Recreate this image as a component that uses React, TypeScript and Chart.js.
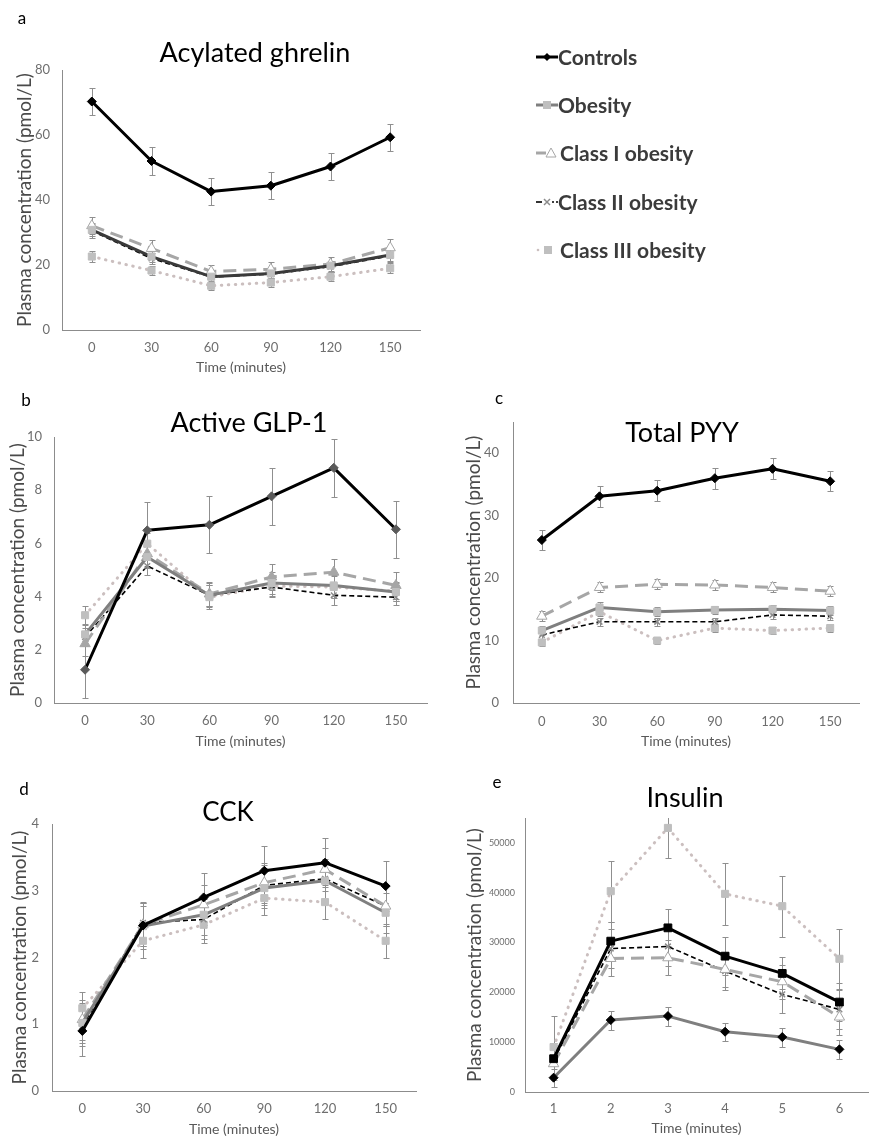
import React, { useEffect, useRef } from "react";
import { Chart, registerables } from "chart.js";
Chart.register(...registerables);

const FONT = "Lato, 'Open Sans', sans-serif";

const seriesNames = ["Controls", "Obesity", "Class I obesity", "Class II obesity", "Class III obesity"];
const timeLabels = ["0", "30", "60", "90", "120", "150"];
const insulinLabels = ["1", "2", "3", "4", "5", "6"];

// y-axis tick values per panel
const ghrelinTicks = [0, 20, 40, 60, 80];
const glpTicks = [0, 2, 4, 6, 8, 10];
const pyyTicks = [0, 10, 20, 30, 40];
const cckTicks = [0, 1, 2, 3, 4];
const insulinTicks = [0, 10000, 20000, 30000, 40000, 50000];

// a — Acylated ghrelin
const ghrelinControls = [70.3, 52.0, 42.6, 44.4, 50.3, 59.3];
const ghrelinObesity = [30.8, 22.6, 16.4, 17.4, 19.8, 23.1];
const ghrelinClassI = [32.1, 25.1, 18.0, 18.7, 20.3, 25.3];
const ghrelinClassII = [30.5, 22.0, 16.3, 17.2, 19.5, 22.8];
const ghrelinClassIII = [22.6, 18.3, 13.6, 14.6, 16.4, 19.0];
const ghrelinControlsErr = [4.2, 4.3, 4.1, 4.2, 4.2, 4.2];
const ghrelinObesityErr = [2.0, 1.6, 1.3, 1.4, 1.5, 1.8];
const ghrelinClassIErr = [2.6, 2.6, 2.0, 2.2, 2.3, 2.6];
const ghrelinClassIIErr = [2.2, 1.8, 1.5, 1.6, 1.7, 2.0];
const ghrelinClassIIIErr = [1.8, 1.4, 1.2, 1.3, 1.4, 1.6];

// b — Active GLP-1
const glpControls = [1.25, 6.49, 6.7, 7.77, 8.84, 6.53];
const glpObesity = [2.58, 5.49, 4.05, 4.51, 4.42, 4.17];
const glpClassI = [2.23, 5.61, 4.1, 4.74, 4.92, 4.42];
const glpClassII = [2.48, 5.15, 4.05, 4.36, 4.05, 3.98];
const glpClassIII = [3.3, 5.99, 3.98, 4.4, 4.36, 4.2];
const glpControlsErr = [1.07, 1.05, 1.07, 1.07, 1.08, 1.07];
const glpObesityErr = [0.4, 0.4, 0.45, 0.4, 0.4, 0.35];
const glpClassIErr = [0.45, 0.45, 0.45, 0.5, 0.5, 0.5];
const glpClassIIErr = [0.35, 0.35, 0.4, 0.35, 0.35, 0.3];
const glpClassIIIErr = [0.35, 0.4, 0.45, 0.4, 0.4, 0.35];

// c — Total PYY
const pyyControls = [26.1, 33.1, 34.0, 36.0, 37.5, 35.5];
const pyyObesity = [11.6, 15.3, 14.6, 14.9, 15.0, 14.8];
const pyyClassI = [13.9, 18.5, 19.0, 18.9, 18.5, 17.9];
const pyyClassII = [10.9, 13.0, 13.0, 13.0, 14.1, 13.9];
const pyyClassIII = [9.7, 14.6, 10.0, 12.0, 11.6, 12.0];
const pyyControlsErr = [1.6, 1.7, 1.7, 1.7, 1.7, 1.6];
const pyyObesityErr = [0.7, 0.8, 0.7, 0.7, 0.7, 0.7];
const pyyClassIErr = [0.8, 0.8, 0.8, 0.8, 0.8, 0.8];
const pyyClassIIErr = [0.6, 0.6, 0.6, 0.6, 0.6, 0.6];
const pyyClassIIIErr = [0.6, 0.7, 0.6, 0.6, 0.6, 0.6];

// d — CCK
const cckControls = [0.9, 2.48, 2.9, 3.3, 3.42, 3.07];
const cckObesity = [1.02, 2.47, 2.64, 3.04, 3.15, 2.67];
const cckClassI = [1.07, 2.49, 2.79, 3.12, 3.32, 2.77];
const cckClassII = [0.97, 2.52, 2.57, 3.08, 3.18, 2.77];
const cckClassIII = [1.24, 2.25, 2.49, 2.89, 2.83, 2.25];
const cckControlsErr = [0.38, 0.35, 0.37, 0.37, 0.37, 0.38];
const cckObesityErr = [0.3, 0.3, 0.3, 0.3, 0.3, 0.3];
const cckClassIErr = [0.3, 0.32, 0.3, 0.3, 0.32, 0.3];
const cckClassIIErr = [0.3, 0.3, 0.3, 0.3, 0.3, 0.3];
const cckClassIIIErr = [0.25, 0.25, 0.27, 0.25, 0.25, 0.25];

// e — Insulin
const insControls = [2870, 14440, 15240, 12100, 11030, 8560];
const insObesity = [6680, 30280, 32950, 27270, 23800, 18050];
const insClassI = [5680, 26800, 26940, 24600, 22130, 15040];
const insClassII = [6350, 28800, 29210, 24260, 19590, 16580];
const insClassIII = [9020, 40310, 53010, 39770, 37300, 26740];
const insControlsErr = [1800, 1900, 1900, 1800, 1900, 1900];
const insObesityErr = [3200, 3900, 3700, 3800, 3200, 3800];
const insClassIErr = [3200, 3500, 3500, 3600, 3400, 3500];
const insClassIIErr = [3000, 4000, 4000, 3800, 3800, 3900];
const insClassIIIErr = [6200, 6100, 6000, 6200, 6100, 6000];

type Style = {
  color: string; width: number; dash: number[]; cap?: CanvasLineCap;
  point: string; radius: number; pBg: string; pBorder: string; pWidth: number;
};

const baseStyles: Style[] = [
  { color: "#000000", width: 3, dash: [], point: "rectRot", radius: 4.5, pBg: "#000000", pBorder: "#000000", pWidth: 1 },
  { color: "#7f7f7f", width: 3, dash: [], point: "rect", radius: 5, pBg: "#bfbfbf", pBorder: "#bfbfbf", pWidth: 1 },
  { color: "#a6a6a6", width: 3, dash: [13, 7], point: "triangle", radius: 6, pBg: "#ffffff", pBorder: "#a6a6a6", pWidth: 1 },
  { color: "#000000", width: 1.6, dash: [5, 3], point: "crossRot", radius: 4, pBg: "#bdbdbd", pBorder: "#8c8c8c", pWidth: 1.5 },
  { color: "#cbbfbf", width: 3, dash: [0.5, 6.5], cap: "round", point: "rect", radius: 5, pBg: "#bfbfbf", pBorder: "#bfbfbf", pWidth: 1 },
];

function makeDatasets(values: number[][], errors: number[][], overrides: Partial<Style>[] = []) {
  return values.map((v, i) => {
    const s = { ...baseStyles[i], ...(overrides[i] || {}) };
    return {
      label: seriesNames[i],
      data: v,
      errors: errors[i],
      borderColor: s.color,
      borderWidth: s.width,
      borderDash: s.dash,
      borderCapStyle: s.cap || "butt",
      borderJoinStyle: "round",
      tension: 0,
      fill: false,
      pointStyle: s.point,
      pointRadius: s.radius,
      pointBackgroundColor: s.pBg,
      pointBorderColor: s.pBorder,
      pointBorderWidth: s.pWidth,
    };
  });
}

const errorBarPlugin = {
  id: "errorBars",
  beforeDatasetsDraw(chart: any) {
    const ctx = chart.ctx;
    const y = chart.scales.y;
    const area = chart.chartArea;
    ctx.save();
    ctx.beginPath();
    ctx.rect(area.left - 10, area.top, area.right - area.left + 20, area.bottom - area.top + 40);
    ctx.clip();
    chart.data.datasets.forEach((ds: any, i: number) => {
      const errs = ds.errors;
      if (!errs) return;
      const meta = chart.getDatasetMeta(i);
      meta.data.forEach((pt: any, j: number) => {
        const v = ds.data[j];
        const e = errs[j];
        const top = Math.round(y.getPixelForValue(v + e)) + 0.5;
        const bot = Math.round(y.getPixelForValue(v - e)) + 0.5;
        const x = Math.round(pt.x) + 0.5;
        ctx.strokeStyle = "#8f8f8f";
        ctx.lineWidth = 1;
        ctx.beginPath();
        ctx.moveTo(x, top); ctx.lineTo(x, bot);
        ctx.moveTo(x - 3, top); ctx.lineTo(x + 3, top);
        ctx.moveTo(x - 3, bot); ctx.lineTo(x + 3, bot);
        ctx.stroke();
      });
    });
    ctx.restore();
  },
};

const panelTextPlugin = {
  id: "panelText",
  afterDraw(chart: any, _args: any, opts: any) {
    const ctx = chart.ctx;
    ctx.save();
    ctx.textAlign = "center";
    ctx.textBaseline = "middle";
    ctx.fillStyle = "#000000";
    ctx.font = `${opts.titleSize}px ${FONT}`;
    ctx.fillText(opts.title, opts.titleX, opts.titleY);
    ctx.font = `17px ${FONT}`;
    ctx.fillText(opts.letter, opts.letterX, opts.letterY);
    ctx.restore();
  },
};

type PanelCfg = {
  box: { x: number; y: number; w: number; h: number };
  plot: { l: number; t: number; r: number; b: number };
  yTitleX: number; xTitleY: number;
  title: string; titleX: number; titleY: number; titleSize: number;
  letter: string; letterX: number; letterY: number;
  labels: string[];
  datasets: any[];
  yMax: number; yTicks: number[];
  yTickSize: number; xTickSize: number; yPad: number; xPad: number;
};

const Y_TITLE_SIZE = 19;
const X_TITLE_SIZE = 14;
const AXIS_COLOR = "#8c8c8c";
const TICK_COLOR = "#6e6e6e";

function Panel({ cfg }: { cfg: PanelCfg }) {
  const ref = useRef<HTMLCanvasElement>(null);
  useEffect(() => {
    const c = cfg;
    const yLH = Y_TITLE_SIZE * 1.2;
    const xLH = X_TITLE_SIZE * 1.2;
    const yScaleLeft = c.yTitleX - yLH / 2;
    const yWidth = c.plot.l - yScaleLeft;
    const padLeft = yScaleLeft - c.box.x;
    const padRight = c.box.x + c.box.w - c.plot.r;
    const padTop = c.plot.t - c.box.y;
    const xScaleBottom = c.xTitleY + xLH / 2;
    const xHeight = xScaleBottom - c.plot.b;
    const padBottom = c.box.y + c.box.h - xScaleBottom;
    const chart = new Chart(ref.current as HTMLCanvasElement, {
      type: "line",
      data: { labels: c.labels, datasets: c.datasets },
      options: {
        animation: false,
        responsive: false,
        layout: { padding: { left: padLeft, right: padRight, top: padTop, bottom: padBottom } },
        plugins: {
          legend: { display: false },
          tooltip: { enabled: false },
          panelText: {
            title: c.title, titleX: c.titleX - c.box.x, titleY: c.titleY - c.box.y, titleSize: c.titleSize,
            letter: c.letter, letterX: c.letterX - c.box.x, letterY: c.letterY - c.box.y,
          },
        } as any,
        scales: {
          x: {
            type: "category",
            offset: true,
            grid: { display: false, drawTicks: false },
            border: { display: true, color: AXIS_COLOR, width: 1 },
            ticks: { padding: c.xPad, color: TICK_COLOR, font: { family: FONT, size: c.xTickSize } },
            title: { display: true, text: "Time (minutes)", padding: 0, color: "#595959", font: { family: FONT, size: X_TITLE_SIZE } },
            afterFit: (s: any) => { s.height = xHeight; },
          },
          y: {
            type: "linear",
            min: 0,
            max: c.yMax,
            grid: { display: false, drawTicks: false },
            border: { display: true, color: AXIS_COLOR, width: 1 },
            ticks: {
              padding: c.yPad,
              color: TICK_COLOR,
              font: { family: FONT, size: c.yTickSize },
              callback: (v: any) => String(v),
            },
            afterBuildTicks: (s: any) => { s.ticks = c.yTicks.map((v) => ({ value: v })); },
            title: { display: true, text: "Plasma concentration (pmol/L)", padding: 0, color: "#4a4a4a", font: { family: FONT, size: Y_TITLE_SIZE } },
            afterFit: (s: any) => { s.width = yWidth; },
          },
        } as any,
      },
      plugins: [errorBarPlugin, panelTextPlugin] as any,
    });
    return () => chart.destroy();
  }, []);
  return (
    <canvas
      ref={ref}
      width={cfg.box.w}
      height={cfg.box.h}
      style={{ position: "absolute", left: cfg.box.x, top: cfg.box.y, width: cfg.box.w, height: cfg.box.h }}
    />
  );
}

const panels: PanelCfg[] = [
  {
    box: { x: 0, y: 0, w: 435, h: 380 },
    plot: { l: 62, t: 70, r: 420, b: 330 },
    yTitleX: 25, xTitleY: 367,
    title: "Acylated ghrelin", titleX: 255, titleY: 53, titleSize: 27,
    letter: "a", letterX: 22, letterY: 19,
    labels: timeLabels,
    datasets: makeDatasets(
      [ghrelinControls, ghrelinObesity, ghrelinClassI, ghrelinClassII, ghrelinClassIII],
      [ghrelinControlsErr, ghrelinObesityErr, ghrelinClassIErr, ghrelinClassIIErr, ghrelinClassIIIErr],
      [{}, { color: "#3a3a3a" }]
    ),
    yMax: 80, yTicks: ghrelinTicks, yTickSize: 13, xTickSize: 13, yPad: 12, xPad: 10,
  },
  {
    box: { x: 0, y: 380, w: 435, h: 380 },
    plot: { l: 54, t: 437, r: 427, b: 703 },
    yTitleX: 18, xTitleY: 741,
    title: "Active GLP-1", titleX: 249, titleY: 423, titleSize: 27,
    letter: "b", letterX: 26, letterY: 401,
    labels: timeLabels,
    datasets: makeDatasets(
      [glpControls, glpObesity, glpClassI, glpClassII, glpClassIII],
      [glpControlsErr, glpObesityErr, glpClassIErr, glpClassIIErr, glpClassIIIErr],
      [{ pBg: "#5a5a5a", pBorder: "#5a5a5a" }, {}, { pBg: "#a6a6a6" }]
    ),
    yMax: 10, yTicks: glpTicks, yTickSize: 13, xTickSize: 13, yPad: 12, xPad: 10,
  },
  {
    box: { x: 435, y: 380, w: 440, h: 380 },
    plot: { l: 513, t: 422, r: 859, b: 703 },
    yTitleX: 474, xTitleY: 741,
    title: "Total PYY", titleX: 682, titleY: 433, titleSize: 27,
    letter: "c", letterX: 499, letterY: 399,
    labels: timeLabels,
    datasets: makeDatasets(
      [pyyControls, pyyObesity, pyyClassI, pyyClassII, pyyClassIII],
      [pyyControlsErr, pyyObesityErr, pyyClassIErr, pyyClassIIErr, pyyClassIIIErr]
    ),
    yMax: 45, yTicks: pyyTicks, yTickSize: 13, xTickSize: 13, yPad: 14, xPad: 11,
  },
  {
    box: { x: 0, y: 760, w: 435, h: 378 },
    plot: { l: 52, t: 824, r: 416, b: 1091 },
    yTitleX: 20, xTitleY: 1129,
    title: "CCK", titleX: 228, titleY: 813, titleSize: 26,
    letter: "d", letterX: 24, letterY: 790,
    labels: timeLabels,
    datasets: makeDatasets(
      [cckControls, cckObesity, cckClassI, cckClassII, cckClassIII],
      [cckControlsErr, cckObesityErr, cckClassIErr, cckClassIIErr, cckClassIIIErr]
    ),
    yMax: 4, yTicks: cckTicks, yTickSize: 13, xTickSize: 13, yPad: 13, xPad: 10,
  },
  {
    box: { x: 435, y: 760, w: 440, h: 378 },
    plot: { l: 525, t: 818, r: 872, b: 1092 },
    yTitleX: 475, xTitleY: 1128,
    title: "Insulin", titleX: 685, titleY: 798, titleSize: 27,
    letter: "e", letterX: 497, letterY: 783,
    labels: insulinLabels,
    datasets: makeDatasets(
      [insControls, insObesity, insClassI, insClassII, insClassIII],
      [insControlsErr, insObesityErr, insClassIErr, insClassIIErr, insClassIIIErr],
      [
        { color: "#7f7f7f", pBg: "#000000", pBorder: "#000000" },
        { color: "#000000", pBg: "#000000", pBorder: "#000000", radius: 5.5 },
      ]
    ),
    yMax: 55000, yTicks: insulinTicks, yTickSize: 9, xTickSize: 13, yPad: 10, xPad: 9,
  },
];

const legendCenters = [57, 105, 153, 202, 250];

function Swatch({ i }: { i: number }) {
  const s = baseStyles[i];
  const h = 16;
  const cy = 8;
  let marker: React.ReactNode = null;
  if (i === 0) marker = <polygon points={`11,${cy - 4} 15,${cy} 11,${cy + 4} 7,${cy}`} fill="#000" />;
  if (i === 1) marker = <rect x={7} y={cy - 4} width={8} height={8} fill="#bfbfbf" />;
  if (i === 2) marker = <polygon points={`15,${cy - 5} 20,${cy + 4} 10,${cy + 4}`} fill="#fff" stroke="#a6a6a6" strokeWidth={1} />;
  if (i === 3) marker = <g stroke="#8c8c8c" strokeWidth={1.5}><line x1={8} y1={cy - 3} x2={14} y2={cy + 3} /><line x1={14} y1={cy - 3} x2={8} y2={cy + 3} /></g>;
  if (i === 4) marker = <rect x={8} y={cy - 4} width={8} height={8} fill="#bfbfbf" />;
  let line: React.ReactNode = null;
  if (i === 0) line = <line x1={0} y1={cy} x2={22} y2={cy} stroke="#000" strokeWidth={3} />;
  if (i === 1) line = <line x1={0} y1={cy} x2={22} y2={cy} stroke={s.color} strokeWidth={3} />;
  if (i === 2) line = <line x1={0} y1={cy} x2={10} y2={cy} stroke={s.color} strokeWidth={3} />;
  if (i === 3) line = <g><line x1={0} y1={cy} x2={6} y2={cy} stroke="#000" strokeWidth={1.6} /><line x1={16} y1={cy} x2={22} y2={cy} stroke="#000" strokeWidth={1.6} strokeDasharray="2 2" /></g>;
  if (i === 4) line = <circle cx={2} cy={cy} r={1.3} fill={s.color} />;
  return (
    <svg width={22} height={h} style={{ position: "absolute", left: 536, top: 0 }}>
      {line}
      {marker}
    </svg>
  );
}

function Legend() {
  return (
    <>
      {seriesNames.map((name, i) => (
        <div key={name} style={{ position: "absolute", left: 0, top: legendCenters[i] - 12, width: 875, height: 24 }}>
          <div style={{ position: "absolute", left: 0, top: 4, width: 875, height: 16 }}>
            <Swatch i={i} />
          </div>
          <div
            style={{
              position: "absolute",
              left: i === 2 || i === 4 ? 560 : 558,
              top: 0,
              font: `bold 21px ${FONT}`,
              lineHeight: "24px",
              color: "#3b3b3b",
              whiteSpace: "nowrap",
            }}
          >
            {name}
          </div>
        </div>
      ))}
    </>
  );
}

export default function App() {
  return (
    <div style={{ position: "absolute", left: 0, top: 0, width: 875, height: 1138, background: "#fff", overflow: "hidden" }}>
      {panels.map((p, i) => (
        <Panel key={i} cfg={p} />
      ))}
      <Legend />
    </div>
  );
}
